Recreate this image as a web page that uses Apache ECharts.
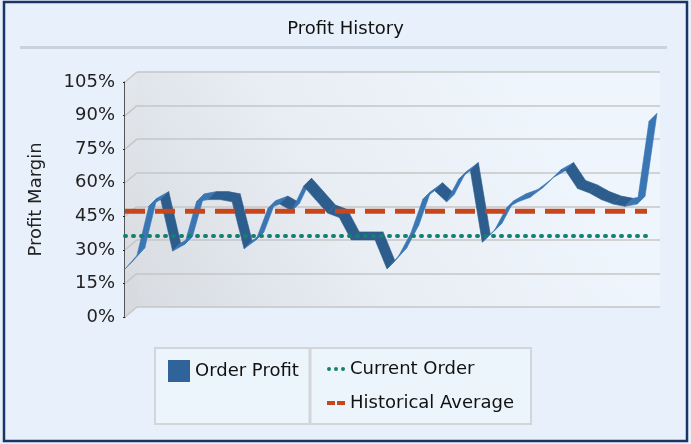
<!DOCTYPE html>
<html>
<head>
<meta charset="utf-8">
<script src="https://cdn.jsdelivr.net/npm/echarts@6/dist/echarts.min.js"></script>
<style>
  html, body { margin: 0; padding: 0; background: #E8F1FB; }
  #chart { width: 691px; height: 444px; }
</style>
</head>
<body>
<div id="chart"></div>
<script>
// profit margin per order (%)
const profit = [21, 27, 49, 52, 29, 32, 51, 52, 52, 51, 30, 34, 48, 50, 47, 58, 52, 46, 44, 34,
  34, 34, 21, 27, 37, 52, 56, 51, 61, 65, 33, 38, 48, 51, 53, 57, 62, 65, 57, 55,
  52, 50, 49, 50, 87]
const orders = profit.map((v, i) => 'Order ' + (i + 1))
const currentOrder = 34
const historicalAvg = 45
const yTicks = [0, 15, 30, 45, 60, 75, 90, 105]

const font = 'DejaVu Sans'
const dotsIcon = 'path://M0,2a2,2 0 1,0 4,0a2,2 0 1,0 -4,0z M7,2a2,2 0 1,0 4,0a2,2 0 1,0 -4,0z M14,2a2,2 0 1,0 4,0a2,2 0 1,0 -4,0z'
const dashIcon = 'path://M0,0h8v4h-8z M10,0h8v4h-8z'

let chart = echarts.init(document.getElementById('chart'))

// 3D depth of the plot box and of the ribbon
const depth = [12, -10]
const half = [4, -4]

function hiddenX(i) {
  return { type: 'category', gridIndex: i, data: orders, boundaryGap: false, show: false }
}
function hiddenY(i) {
  return { type: 'value', gridIndex: i, min: 0, max: 105, interval: 15, show: false }
}

let option = {
  backgroundColor: '#E8F1FB',
  animation: false,
  title: {
    text: 'Profit History',
    left: 'center',
    top: 15,
    textStyle: { fontFamily: font, fontSize: 18, fontWeight: 'normal', color: '#111' }
  },
  grid: [
    // back wall
    {
      left: 137, right: 31, top: 72, height: 235, show: true, borderWidth: 0,
      backgroundColor: {
        type: 'linear', x: 0, y: 1, x2: 0.75, y2: 0,
        colorStops: [
          { offset: 0, color: '#d8dce1' },
          { offset: 0.5, color: '#e9eef4' },
          { offset: 1, color: '#eef5fc' }
        ]
      }
    },
    // front plane (axis)
    { left: 125, right: 44, top: 82, height: 235 },
    // ribbon plane
    { left: 129, right: 38, top: 77, height: 235 },
    // reference lines
    { left: 125, right: 44, top: 77, height: 235 }
  ],
  xAxis: [hiddenX(0), hiddenX(1), hiddenX(2), hiddenX(3)],
  yAxis: [
    {
      type: 'value', gridIndex: 0, min: 0, max: 105, interval: 15,
      axisLabel: { show: false }, axisLine: { show: false }, axisTick: { show: false },
      splitLine: { lineStyle: { color: '#c6c6c6', width: 1.5 } }
    },
    {
      type: 'value', gridIndex: 1, min: 0, max: 105, interval: 15,
      name: 'Profit Margin', nameLocation: 'middle', nameGap: 80,
      nameTextStyle: { fontFamily: font, fontSize: 18, color: '#222' },
      axisLine: { show: true, lineStyle: { color: '#222', width: 1.5 } },
      axisTick: { show: true, length: 2, lineStyle: { color: '#222' } },
      axisLabel: { formatter: '{value}%', margin: 10, fontFamily: font, fontSize: 18, color: '#222' },
      splitLine: { show: false }
    },
    hiddenY(2),
    hiddenY(3)
  ],
  legend: [
    {
      left: 168, top: 360, padding: 0, itemWidth: 22, itemHeight: 22,
      data: [{ name: 'Order Profit', icon: 'rect' }],
      textStyle: { fontFamily: font, fontSize: 18, color: '#111', lineHeight: 20 }
    },
    {
      left: 327, top: 359, padding: 0, orient: 'vertical', itemGap: 14,
      itemWidth: 18, itemHeight: 5,
      data: [
        { name: 'Current Order', icon: dotsIcon },
        { name: 'Historical Average', icon: dashIcon }
      ],
      textStyle: { fontFamily: font, fontSize: 18, color: '#111', lineHeight: 20 }
    }
  ],
  graphic: [
    { type: 'rect', shape: { x: 4, y: 2, width: 683, height: 439 }, style: { fill: 'none', stroke: '#1B3466', lineWidth: 2.5 } },
    { type: 'rect', shape: { x: 20, y: 46, width: 647, height: 3 }, style: { fill: '#c9d3df' } },
    { type: 'rect', shape: { x: 155, y: 348, width: 376, height: 76 }, style: { fill: '#ECF4FC', stroke: '#d2d6da', lineWidth: 2 } },
    { type: 'line', shape: { x1: 310, y1: 348, x2: 310, y2: 424 }, style: { stroke: '#d2d6da', lineWidth: 3 } }
  ],
  series: [
    {
      // side wall and its grid diagonals
      type: 'custom',
      xAxisIndex: 0, yAxisIndex: 0,
      silent: true,
      clip: false,
      data: yTicks.map(t => [0, t]),
      renderItem: function (params, api) {
        let p = api.coord([0, api.value(1)])
        let kids = []
        if (params.dataIndex === 0) {
          let top = api.coord([0, 105])
          let bot = api.coord([0, 0])
          kids.push({
            type: 'polygon',
            shape: { points: [top, bot, [bot[0] - depth[0], bot[1] - depth[1]], [top[0] - depth[0], top[1] - depth[1]]] },
            style: {
              fill: new echarts.graphic.LinearGradient(0, 0, 0, 1, [
                { offset: 0, color: '#e3e7eb' },
                { offset: 1, color: '#d6dadf' }
              ])
            }
          })
        }
        kids.push({
          type: 'line',
          shape: { x1: p[0], y1: p[1], x2: p[0] - depth[0], y2: p[1] - depth[1] },
          style: { stroke: '#c6c6c6', lineWidth: 1.5 }
        })
        return { type: 'group', children: kids }
      }
    },
    {
      name: 'Order Profit',
      type: 'custom',
      xAxisIndex: 2, yAxisIndex: 2,
      clip: false,
      itemStyle: { color: '#2F6399' },
      encode: { x: [0, 2], y: [1, 3] },
      data: profit.slice(0, -1).map((v, i) => [i, v, i + 1, profit[i + 1]]),
      renderItem: function (params, api) {
        let a = api.coord([api.value(0), api.value(1)])
        let b = api.coord([api.value(2), api.value(3)])
        let up = b[1] < a[1] - 2
        let col = up ? '#3A76B3' : '#2C5D8C'
        return {
          type: 'polygon',
          shape: {
            points: [
              [a[0] - half[0], a[1] - half[1]],
              [b[0] - half[0], b[1] - half[1]],
              [b[0] + half[0], b[1] + half[1]],
              [a[0] + half[0], a[1] + half[1]]
            ]
          },
          style: { fill: col, stroke: col, lineWidth: 0.6 }
        }
      }
    },
    {
      name: 'Current Order',
      type: 'line',
      xAxisIndex: 3, yAxisIndex: 3,
      symbol: 'none',
      z: 5,
      itemStyle: { color: '#15806F' },
      lineStyle: { color: '#15806F', width: 4, type: [1, 7], cap: 'round' },
      data: orders.map(() => currentOrder)
    },
    {
      name: 'Historical Average',
      type: 'line',
      xAxisIndex: 3, yAxisIndex: 3,
      symbol: 'none',
      z: 5,
      itemStyle: { color: '#C8461B' },
      lineStyle: { color: '#C8461B', width: 5, type: [20, 10] },
      data: orders.map(() => historicalAvg)
    }
  ]
}

chart.setOption(option)
</script>
</body>
</html>
